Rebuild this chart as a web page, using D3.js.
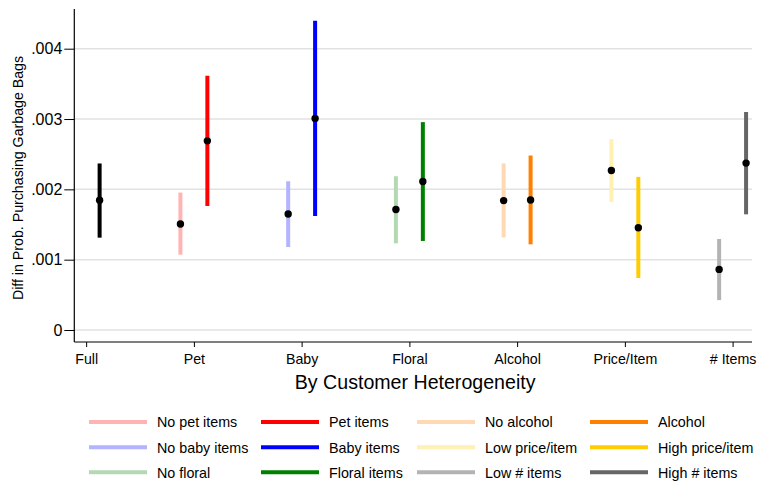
<!DOCTYPE html>
<html>
<head>
<meta charset="utf-8">
<script src="https://cdn.jsdelivr.net/npm/d3@7"></script>
<style>
  html, body { margin: 0; padding: 0; background: #fff; }
  svg { display: block; font-family: "Liberation Sans", Arial, sans-serif; }
</style>
</head>
<body>
<svg id="chart" width="758" height="484"></svg>
<script>
// ---- data ----
const categories = ["Full", "Pet", "Baby", "Floral", "Alcohol", "Price/Item", "# Items"];
const yTicks = [0, 0.001, 0.002, 0.003, 0.004];
const yTickLabels = ["0", ".001", ".002", ".003", ".004"];

const seriesNames = ["Full", "No pet items", "Pet items", "No baby items", "Baby items",
  "No floral", "Floral items", "No alcohol", "Alcohol", "Low price/item", "High price/item",
  "Low # items", "High # items"];
const seriesCategory = ["Full", "Pet", "Pet", "Baby", "Baby", "Floral", "Floral",
  "Alcohol", "Alcohol", "Price/Item", "Price/Item", "# Items", "# Items"];
const seriesSlot = [1, -1, 1, -1, 1, -1, 1, -1, 1, -1, 1, -1, 1];
const estimates = [0.001845, 0.001507, 0.00269, 0.00165, 0.003009, 0.001713, 0.002111,
  0.00184, 0.001848, 0.002268, 0.001453, 0.000862, 0.002373];
const lower = [0.001313, 0.001071, 0.001764, 0.00118, 0.001621, 0.001232, 0.001266,
  0.001316, 0.001218, 0.001821, 0.00074, 0.000425, 0.001645];
const upper = [0.002368, 0.001954, 0.003615, 0.002115, 0.004399, 0.002187, 0.002956,
  0.00237, 0.002481, 0.002714, 0.002177, 0.001294, 0.0031];
const seriesColors = ["#000000", "#ffb3b3", "#ff0000", "#b3b3ff", "#0000ff", "#b3d9b3",
  "#008000", "#ffd9b3", "#ff8000", "#fff0b3", "#ffcc00", "#b3b3b3", "#666666"];

// legend layout: columns of series names (Full not in legend)
const legendColumns = [
  ["No pet items", "No baby items", "No floral"],
  ["Pet items", "Baby items", "Floral items"],
  ["No alcohol", "Low price/item", "Low # items"],
  ["Alcohol", "High price/item", "High # items"]
];

// ---- layout ----
const svg = d3.select("#chart");
const plotLeft = 74.3, plotRight = 752, plotTop = 9, axisY = 342;
const slotOffset = 0.125;

const x = d3.scaleLinear().domain([-0.11, 6.18]).range([plotLeft, plotRight]);
const y = d3.scaleLinear().domain([0, 0.004]).range([330, 48.7]);
const catIndex = d3.scaleOrdinal().domain(categories).range(d3.range(categories.length));

const series = seriesNames.map((n, i) => ({
  name: n, cat: seriesCategory[i], slot: seriesSlot[i],
  est: estimates[i], lo: lower[i], hi: upper[i], color: seriesColors[i]
}));

// gridlines
svg.append("g").selectAll("line").data(yTicks).join("line")
  .attr("x1", plotLeft).attr("x2", plotRight)
  .attr("y1", d => y(d)).attr("y2", d => y(d))
  .attr("stroke", "#e2e2e2").attr("stroke-width", 1.5);

// y axis
const yAxis = d3.axisLeft(y).tickValues(yTicks)
  .tickFormat((d, i) => yTickLabels[i]).tickSize(10).tickPadding(2);
const gy = svg.append("g").attr("transform", `translate(${plotLeft},0)`).call(yAxis);
gy.select(".domain").remove();
gy.selectAll(".tick line").attr("stroke", "#000").attr("stroke-width", 1);
gy.selectAll(".tick text").attr("font-size", 16).attr("fill", "#000")
  .attr("font-family", "Liberation Sans, Arial, sans-serif");
svg.append("line").attr("x1", plotLeft).attr("x2", plotLeft).attr("y1", plotTop).attr("y2", axisY)
  .attr("stroke", "#000").attr("stroke-width", 1.2);

// x axis
const xAxis = d3.axisBottom(x).tickValues(d3.range(categories.length))
  .tickFormat(i => categories[i]).tickSize(5).tickPadding(7);
const gx = svg.append("g").attr("transform", `translate(0,${axisY})`).call(xAxis);
gx.select(".domain").remove();
gx.selectAll(".tick line").attr("stroke", "#000").attr("stroke-width", 1);
gx.selectAll(".tick text").attr("font-size", 14.2).attr("fill", "#000")
  .attr("font-family", "Liberation Sans, Arial, sans-serif");
svg.append("line").attr("x1", plotLeft).attr("x2", plotRight).attr("y1", axisY).attr("y2", axisY)
  .attr("stroke", "#000").attr("stroke-width", 1.2);

// axis titles
svg.append("text").attr("x", (plotLeft + plotRight) / 2 + 2).attr("y", 389)
  .attr("text-anchor", "middle").attr("font-size", 19.6).attr("fill", "#000")
  .text("By Customer Heterogeneity");
svg.append("text").attr("transform", "translate(23,178) rotate(-90)")
  .attr("text-anchor", "middle").attr("font-size", 14.2).attr("fill", "#000")
  .text("Diff in Prob. Purchasing Garbage Bags");

// error bars
const px = d => x(catIndex(d.cat) + d.slot * slotOffset);
svg.append("g").selectAll("line").data(series).join("line")
  .attr("x1", px).attr("x2", px)
  .attr("y1", d => y(d.lo)).attr("y2", d => y(d.hi))
  .attr("stroke", d => d.color).attr("stroke-width", 4);

// points
svg.append("g").selectAll("circle").data(series).join("circle")
  .attr("cx", px).attr("cy", d => y(d.est)).attr("r", 3.7).attr("fill", "#000");

// legend
const colX = [89, 261, 417, 590];
const rowY = [422, 447.3, 472.3];
const colorOf = name => seriesColors[seriesNames.indexOf(name)];
const lg = svg.append("g");
legendColumns.forEach((col, ci) => {
  col.forEach((name, ri) => {
    const g = lg.append("g").attr("transform", `translate(${colX[ci]},${rowY[ri]})`);
    g.append("line").attr("x1", 0).attr("x2", 58).attr("y1", 0).attr("y2", 0)
      .attr("stroke", colorOf(name)).attr("stroke-width", 4);
    g.append("text").attr("x", 68).attr("y", 5.2).attr("font-size", 14.3)
      .attr("fill", "#000").text(name);
  });
});
</script>
</body>
</html>
